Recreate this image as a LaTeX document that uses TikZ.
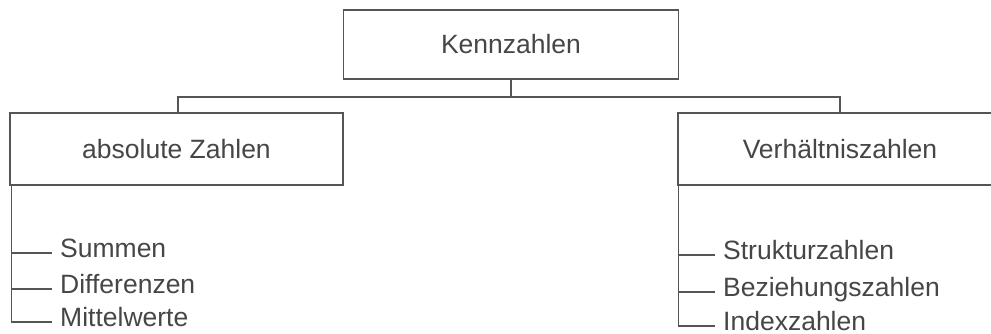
\documentclass[tikz,border=0pt]{standalone}
\usepackage{fontspec}
\setmainfont{Liberation Sans}
\definecolor{linegray}{RGB}{85,85,85}
\definecolor{textgray}{RGB}{70,70,70}
\begin{document}
\begin{tikzpicture}[x={(1pt,0)},y={(0,-1pt)},
  box/.style={draw=linegray,line width=1.5pt,minimum height=70pt,inner sep=0pt,
    font=\fontsize{26.5}{30}\selectfont,text=textgray},
  item/.style={anchor=west,inner xsep=8pt,inner ysep=0pt,text height=8pt,text depth=0pt,
    font=\fontsize{26.5}{30}\selectfont,text=textgray},
  conn/.style={draw=linegray,line width=1.5pt}]
\useasboundingbox (0,0) rectangle (991,334);
\fill[white] (0,0) rectangle (991,334);
\node[box,minimum width=335pt,minimum height=69pt] (top) at (511,44.5) {Kennzahlen};
\node[box,minimum width=333pt,minimum height=72pt] (abs) at (176.5,149) {absolute Zahlen};
\node[box,minimum width=324pt,minimum height=72pt] (verh) at (840,149) {Verhältniszahlen};
\coordinate (bar) at (511,97);
\draw[conn] (top.south) -- (bar);
\draw[conn] (abs.north -| 178,0) |- (bar) -| (verh.north);
% left list
\node[item] (summen) at (52,253) {Summen};
\node[item] (diff) at (52,289) {Differenzen};
\node[item] (mittel) at (52,322) {Mittelwerte};
\coordinate (ltrunk) at ([xshift=2pt]abs.south west);
\draw[conn] (ltrunk) |- (mittel.west);
\draw[conn] (ltrunk |- summen.west) -- (summen.west);
\draw[conn] (ltrunk |- diff.west) -- (diff.west);
% right list
\node[item] (strukt) at (715,255) {Strukturzahlen};
\node[item] (bez) at (715,292) {Beziehungszahlen};
\node[item] (index) at (715,326) {Indexzahlen};
\coordinate (rtrunk) at ([xshift=1pt]verh.south west);
\draw[conn] (rtrunk) |- (index.west);
\draw[conn] (rtrunk |- strukt.west) -- (strukt.west);
\draw[conn] (rtrunk |- bez.west) -- (bez.west);
\end{tikzpicture}
\end{document}
